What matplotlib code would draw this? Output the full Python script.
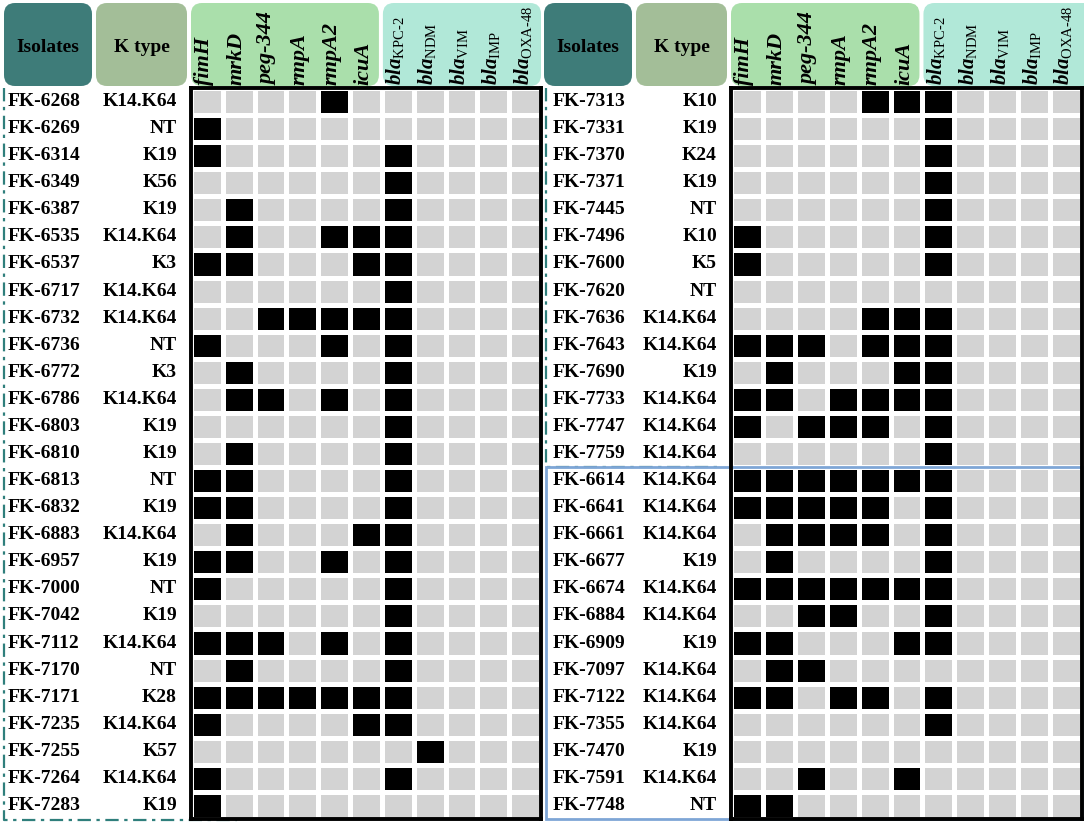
import numpy as np
import matplotlib.pyplot as plt
from matplotlib.colors import ListedColormap
from matplotlib.patches import FancyBboxPatch, Rectangle
from matplotlib.transforms import blended_transform_factory

plt.rcParams['font.family'] = ['Liberation Serif', 'DejaVu Serif']
plt.rcParams['mathtext.fontset'] = 'custom'
plt.rcParams['mathtext.rm'] = 'Liberation Serif'
plt.rcParams['mathtext.it'] = 'Liberation Serif:italic'
plt.rcParams['mathtext.bf'] = 'Liberation Serif:bold'
plt.rcParams['mathtext.bfit'] = 'Liberation Serif:italic:bold'

# column headers
virulence_genes = ['fimH', 'mrkD', 'peg-344', 'rmpA', 'rmpA2', 'icuA']
bla_genes = ['KPC-2', 'NDM', 'VIM', 'IMP', 'OXA-48']

# left panel
left_isolates = ['FK-6268', 'FK-6269', 'FK-6314', 'FK-6349', 'FK-6387', 'FK-6535',
                 'FK-6537', 'FK-6717', 'FK-6732', 'FK-6736', 'FK-6772', 'FK-6786',
                 'FK-6803', 'FK-6810', 'FK-6813', 'FK-6832', 'FK-6883', 'FK-6957',
                 'FK-7000', 'FK-7042', 'FK-7112', 'FK-7170', 'FK-7171', 'FK-7235',
                 'FK-7255', 'FK-7264', 'FK-7283']
left_ktypes = ['K14.K64', 'NT', 'K19', 'K56', 'K19', 'K14.K64',
               'K3', 'K14.K64', 'K14.K64', 'NT', 'K3', 'K14.K64',
               'K19', 'K19', 'NT', 'K19', 'K14.K64', 'K19',
               'NT', 'K19', 'K14.K64', 'NT', 'K28', 'K14.K64',
               'K57', 'K14.K64', 'K19']
# 1 = gene detected; order: fimH mrkD peg-344 rmpA rmpA2 icuA KPC-2 NDM VIM IMP OXA-48
left_profile = [
    [0, 0, 0, 0, 1, 0, 0, 0, 0, 0, 0],
    [1, 0, 0, 0, 0, 0, 0, 0, 0, 0, 0],
    [1, 0, 0, 0, 0, 0, 1, 0, 0, 0, 0],
    [0, 0, 0, 0, 0, 0, 1, 0, 0, 0, 0],
    [0, 1, 0, 0, 0, 0, 1, 0, 0, 0, 0],
    [0, 1, 0, 0, 1, 1, 1, 0, 0, 0, 0],
    [1, 1, 0, 0, 0, 1, 1, 0, 0, 0, 0],
    [0, 0, 0, 0, 0, 0, 1, 0, 0, 0, 0],
    [0, 0, 1, 1, 1, 1, 1, 0, 0, 0, 0],
    [1, 0, 0, 0, 1, 0, 1, 0, 0, 0, 0],
    [0, 1, 0, 0, 0, 0, 1, 0, 0, 0, 0],
    [0, 1, 1, 0, 1, 0, 1, 0, 0, 0, 0],
    [0, 0, 0, 0, 0, 0, 1, 0, 0, 0, 0],
    [0, 1, 0, 0, 0, 0, 1, 0, 0, 0, 0],
    [1, 1, 0, 0, 0, 0, 1, 0, 0, 0, 0],
    [1, 1, 0, 0, 0, 0, 1, 0, 0, 0, 0],
    [0, 1, 0, 0, 0, 1, 1, 0, 0, 0, 0],
    [1, 1, 0, 0, 1, 0, 1, 0, 0, 0, 0],
    [1, 0, 0, 0, 0, 0, 1, 0, 0, 0, 0],
    [0, 0, 0, 0, 0, 0, 1, 0, 0, 0, 0],
    [1, 1, 1, 0, 1, 0, 1, 0, 0, 0, 0],
    [0, 1, 0, 0, 0, 0, 1, 0, 0, 0, 0],
    [1, 1, 1, 1, 1, 1, 1, 0, 0, 0, 0],
    [1, 0, 0, 0, 0, 1, 1, 0, 0, 0, 0],
    [0, 0, 0, 0, 0, 0, 0, 1, 0, 0, 0],
    [1, 0, 0, 0, 0, 0, 1, 0, 0, 0, 0],
    [1, 0, 0, 0, 0, 0, 0, 0, 0, 0, 0],
]

# right panel
right_isolates = ['FK-7313', 'FK-7331', 'FK-7370', 'FK-7371', 'FK-7445', 'FK-7496',
                  'FK-7600', 'FK-7620', 'FK-7636', 'FK-7643', 'FK-7690', 'FK-7733',
                  'FK-7747', 'FK-7759', 'FK-6614', 'FK-6641', 'FK-6661', 'FK-6677',
                  'FK-6674', 'FK-6884', 'FK-6909', 'FK-7097', 'FK-7122', 'FK-7355',
                  'FK-7470', 'FK-7591', 'FK-7748']
right_ktypes = ['K10', 'K19', 'K24', 'K19', 'NT', 'K10',
                'K5', 'NT', 'K14.K64', 'K14.K64', 'K19', 'K14.K64',
                'K14.K64', 'K14.K64', 'K14.K64', 'K14.K64', 'K14.K64', 'K19',
                'K14.K64', 'K14.K64', 'K19', 'K14.K64', 'K14.K64', 'K14.K64',
                'K19', 'K14.K64', 'NT']
right_profile = [
    [0, 0, 0, 0, 1, 1, 1, 0, 0, 0, 0],
    [0, 0, 0, 0, 0, 0, 1, 0, 0, 0, 0],
    [0, 0, 0, 0, 0, 0, 1, 0, 0, 0, 0],
    [0, 0, 0, 0, 0, 0, 1, 0, 0, 0, 0],
    [0, 0, 0, 0, 0, 0, 1, 0, 0, 0, 0],
    [1, 0, 0, 0, 0, 0, 1, 0, 0, 0, 0],
    [1, 0, 0, 0, 0, 0, 1, 0, 0, 0, 0],
    [0, 0, 0, 0, 0, 0, 0, 0, 0, 0, 0],
    [0, 0, 0, 0, 1, 1, 1, 0, 0, 0, 0],
    [1, 1, 1, 0, 1, 1, 1, 0, 0, 0, 0],
    [0, 1, 0, 0, 0, 1, 1, 0, 0, 0, 0],
    [1, 1, 0, 1, 1, 1, 1, 0, 0, 0, 0],
    [1, 0, 1, 1, 1, 0, 1, 0, 0, 0, 0],
    [0, 0, 0, 0, 0, 0, 1, 0, 0, 0, 0],
    [1, 1, 1, 1, 1, 1, 1, 0, 0, 0, 0],
    [1, 1, 1, 1, 1, 0, 1, 0, 0, 0, 0],
    [0, 1, 1, 1, 1, 0, 1, 0, 0, 0, 0],
    [0, 1, 0, 0, 0, 0, 1, 0, 0, 0, 0],
    [1, 1, 1, 1, 1, 1, 1, 0, 0, 0, 0],
    [0, 0, 1, 1, 0, 0, 1, 0, 0, 0, 0],
    [1, 1, 0, 0, 0, 1, 1, 0, 0, 0, 0],
    [0, 1, 1, 0, 0, 0, 0, 0, 0, 0, 0],
    [1, 1, 0, 1, 1, 0, 1, 0, 0, 0, 0],
    [0, 0, 0, 0, 0, 0, 1, 0, 0, 0, 0],
    [0, 0, 0, 0, 0, 0, 0, 0, 0, 0, 0],
    [0, 0, 1, 0, 0, 1, 0, 0, 0, 0, 0],
    [1, 1, 0, 0, 0, 0, 0, 0, 0, 0, 0],
]
# isolates from here down are framed in blue
boxed_from = 'FK-6614'

W, H = 1084, 822
GRID_TOP, GRID_BOTTOM = 88, 819
TEAL = '#2f7f7c'
BLUE = '#7ea6d6'
cmap = ListedColormap(['#d3d3d3', 'black'])

fig = plt.figure(figsize=(W / 100, H / 100), dpi=100)
bg = fig.add_axes([0, 0, 1, 1])
bg.set_xlim(0, W)
bg.set_ylim(H, 0)
bg.axis('off')

col_labels = [g for g in virulence_genes] + \
    [r'$\mathbfit{bla}_{\mathrm{' + b.replace('-', r'\text{-}') + '}}$' for b in bla_genes]


def header_box(x0, x1, color, text=None):
    bg.add_patch(FancyBboxPatch((x0, 3), x1 - x0, 83,
                                boxstyle='round,pad=0,rounding_size=11',
                                fc=color, ec='none'))
    if text:
        bg.text((x0 + x1) / 2, 47, text, ha='center', va='center',
                fontsize=14, fontweight='bold')


def draw_panel(left, gx0, gx1, isolates, ktypes, profile, name_x, ktype_x, box_right):
    mat = np.array(profile)
    nrow, ncol = mat.shape
    cw = (gx1 - gx0) / ncol
    nv = len(virulence_genes)

    header_box(left, left + 88, '#3e7c79', 'Isolates')
    header_box(left + 92, gx0 - 4, '#a3be98', 'K type')
    header_box(gx0, gx0 + nv * cw - 3, '#aadfab')
    header_box(gx0 + nv * cw + 1, box_right, '#b1e8d8')

    ax = fig.add_axes([gx0 / W, 1 - GRID_BOTTOM / H, (gx1 - gx0) / W,
                       (GRID_BOTTOM - GRID_TOP) / H])
    ax.pcolormesh(mat, cmap=cmap, vmin=0, vmax=1, edgecolors='white', linewidth=2.2)
    ax.set_xlim(0, ncol)
    ax.set_ylim(nrow, 0)
    ax.set_xticks([])
    ax.set_yticks([])
    for s in ax.spines.values():
        s.set_linewidth(2.8)
        s.set_color('black')

    # x in pixels, y in rows
    tr = blended_transform_factory(bg.transData, ax.transData)
    for i, (iso, k) in enumerate(zip(isolates, ktypes)):
        ax.text(name_x, i + 0.5, iso, transform=tr, ha='left', va='center',
                fontsize=14, fontweight='bold', clip_on=False)
        ax.text(ktype_x, i + 0.5, k, transform=tr, ha='right', va='center',
                fontsize=14, fontweight='bold', clip_on=False)

    tr2 = blended_transform_factory(ax.transData, bg.transData)
    for j, lab in enumerate(col_labels):
        if j < nv:
            ax.text(j + 0.42, 85, lab, transform=tr2, rotation=90, ha='center',
                    va='bottom', fontsize=16, fontweight='bold',
                    fontstyle='italic', clip_on=False)
        else:
            ax.text(j + 0.42, 85, lab, transform=tr2, rotation=90, ha='center',
                    va='bottom', fontsize=15, clip_on=False)
    return ax, tr


dash = (0, (6, 2.5, 1.5, 2.5))

axl, trl = draw_panel(4, 191, 541, left_isolates, left_ktypes, left_profile,
                      8, 177, 541)
axl.plot([3.5, 3.5, 237], [0, len(left_isolates) + 0.03, len(left_isolates) + 0.03],
         transform=trl, color=TEAL, lw=1.6, linestyle=dash, clip_on=False, zorder=0.5)

axr, trr = draw_panel(544, 731, 1082, right_isolates, right_ktypes, right_profile,
                      553, 717, 1100)
nb = right_isolates.index(boxed_from)
axr.plot([546, 546, 722], [0, nb, nb], transform=trr, color=TEAL, lw=1.6,
         linestyle=dash, clip_on=False, zorder=0.5)
axr.add_patch(Rectangle((546, nb), 1082 - 546, len(right_isolates) - nb,
                        transform=trr, fill=False, ec=BLUE, lw=2.0,
                        clip_on=False, zorder=2))

fig.savefig('out.png', dpi=100)
